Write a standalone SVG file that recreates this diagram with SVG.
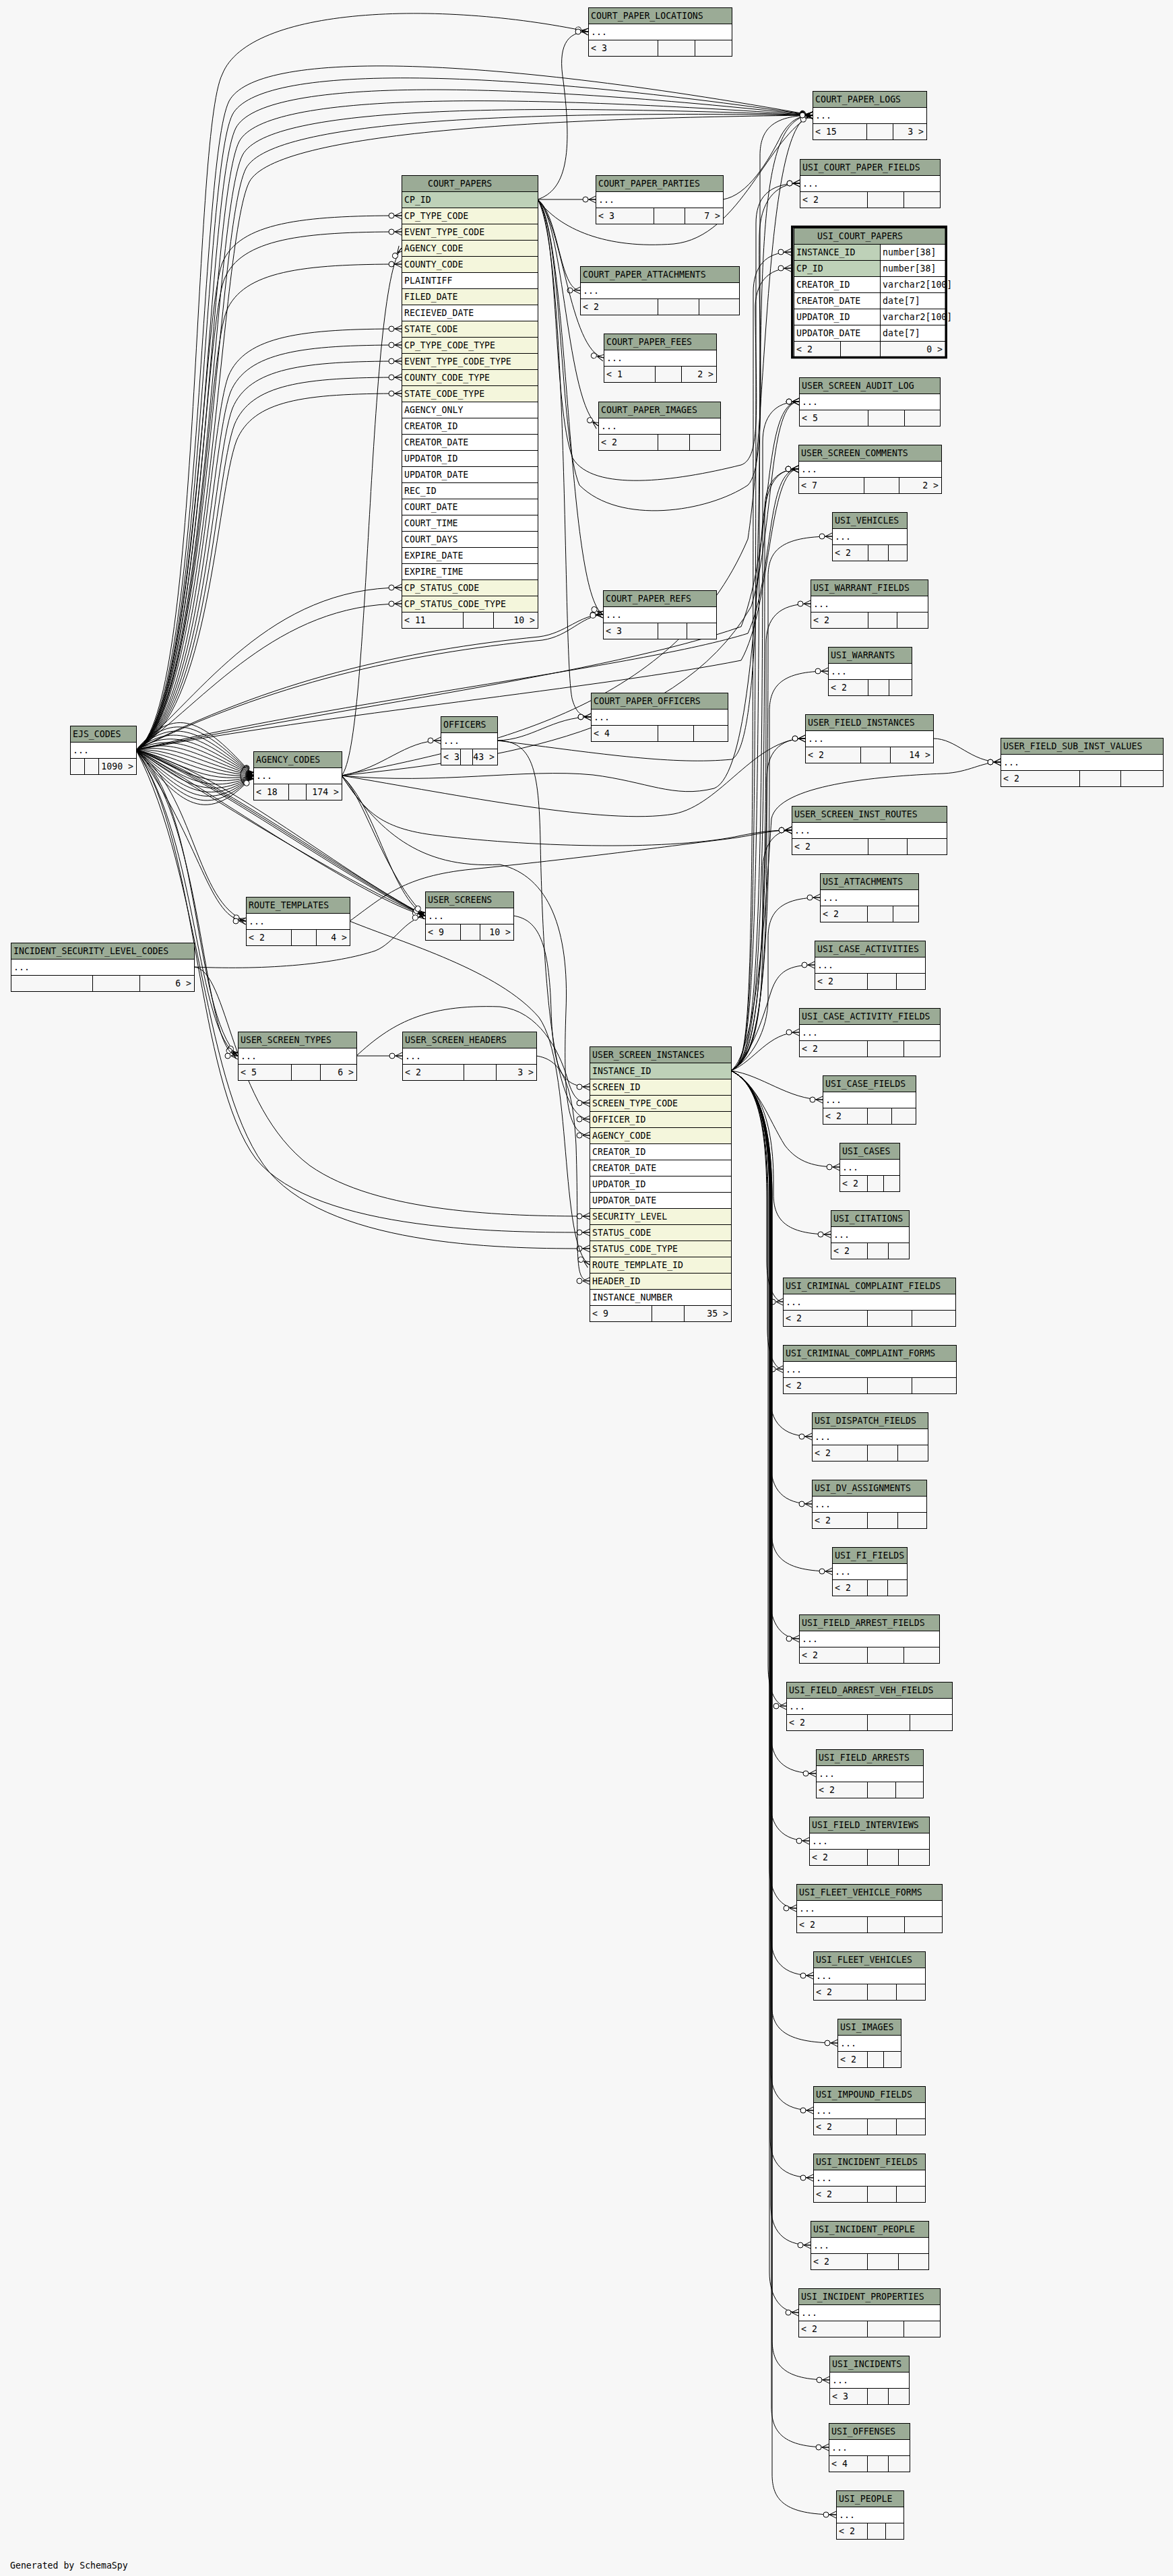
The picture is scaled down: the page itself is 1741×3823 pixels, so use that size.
<svg xmlns="http://www.w3.org/2000/svg" width="1741" height="3823" viewBox="0 0 1741 3823">
<style>
.h,.pk,.fk,.w,.ft{stroke:#000;stroke-width:1;shape-rendering:crispEdges}
.h{fill:#9bab96}.pk{fill:#bed1b8}.fk{fill:#f4f6dc}.w{fill:#fff}.ft{fill:#f7f7f7}
.dv{stroke:#000;stroke-width:1;shape-rendering:crispEdges;fill:none}
text{font-family:"DejaVu Sans Mono","Liberation Mono",monospace;font-size:13.2px;fill:#000}
.r{text-anchor:end}
#connectors path{fill:none;stroke:#000;stroke-width:1;marker-end:url(#cf)}
</style>
<defs>
<marker id="cf" viewBox="-20 -7 22 14" markerWidth="22" markerHeight="14" refX="0" refY="0" orient="auto" markerUnits="userSpaceOnUse" overflow="visible">
<path d="M-10,0 L0,-5 M-10,0 L0,5 M-10,0 L0,0" fill="none" stroke="#000" stroke-width="1"/>
<circle cx="-15" cy="0" r="4" fill="#fff" stroke="#000" stroke-width="1"/>
</marker>
</defs>
<rect x="0" y="0" width="1741" height="3823" fill="#f7f7f7"/>

<g id="connectors">
<!-- EJS_CODES -> COURT_PAPERS -->
<path d="M202,1113 C290,1060 300,470 330,390 C355,330 450,320 596,320"/>
<path d="M202,1113 C293,1060 303,494 333,414 C358,354 450,344 596,344"/>
<path d="M202,1113 C296,1060 306,542 336,462 C361,402 450,392 596,392"/>
<path d="M202,1113 C299,1060 309,638 339,558 C364,498 450,488 596,488"/>
<path d="M202,1113 C302,1060 312,662 342,582 C367,522 450,512 596,512"/>
<path d="M202,1113 C305,1060 315,686 345,606 C370,546 450,536 596,536"/>
<path d="M202,1113 C308,1060 318,710 348,630 C373,570 450,560 596,560"/>
<path d="M202,1113 C311,1060 321,734 351,654 C376,594 450,584 596,584"/>
<path d="M202,1113 C300,1030 400,872 596,872"/>
<path d="M202,1113 C305,1040 410,896 596,896"/>
<!-- EJS_CODES -> COURT_PAPER_LOGS -->
<path d="M202,1113 C300,1060 295,240 340,150 C380,75 700,80 1206,171"/>
<path d="M202,1113 C302,1060 300,260 345,170 C385,95 720,100 1206,171"/>
<path d="M202,1113 C304,1060 305,280 350,190 C390,115 740,120 1206,171"/>
<path d="M202,1113 C306,1060 310,300 355,210 C395,135 760,140 1206,171"/>
<path d="M202,1113 C308,1060 315,320 360,230 C400,155 780,155 1206,171"/>
<path d="M202,1113 C310,1060 320,340 365,250 C405,175 800,165 1206,171"/>
<path d="M202,1113 C312,1060 325,360 370,270 C410,195 820,175 1206,171"/>
<!-- EJS_CODES -> COURT_PAPER_LOCATIONS -->
<path d="M202,1113 C298,1060 285,200 330,110 C370,10 650,0 873,47"/>
<!-- EJS_CODES -> AGENCY_CODES -->
<path d="M202,1113 C260,1045 300,1066 376,1151"/>
<path d="M202,1113 C260,1053 300,1076 376,1151"/>
<path d="M202,1113 C260,1061 300,1086 376,1151"/>
<path d="M202,1113 C260,1069 300,1096 376,1151"/>
<path d="M202,1113 C260,1077 300,1106 376,1151"/>
<path d="M202,1113 C260,1085 300,1116 376,1151"/>
<path d="M202,1113 C260,1093 300,1126 376,1151"/>
<path d="M202,1113 C260,1101 300,1136 376,1151"/>
<path d="M202,1113 C260,1109 300,1146 376,1151"/>
<path d="M202,1113 C260,1117 300,1156 376,1151"/>
<path d="M202,1113 C260,1125 300,1166 376,1151"/>
<path d="M202,1113 C260,1133 300,1176 376,1151"/>
<path d="M202,1113 C260,1141 300,1186 376,1151"/>
<path d="M202,1113 C260,1149 300,1196 376,1151"/>
<path d="M202,1113 C260,1157 300,1206 376,1151"/>
<path d="M202,1113 C260,1165 300,1216 376,1151"/>
<path d="M202,1113 C260,1173 300,1226 376,1151"/>
<path d="M202,1113 C260,1181 300,1236 376,1151"/>
<!-- EJS_CODES -> USER_SCREENS -->
<path d="M202,1113 C300,1140 500,1290 631,1359"/>
<path d="M202,1113 C310,1150 510,1300 631,1359"/>
<path d="M202,1113 C320,1160 520,1310 631,1359"/>
<path d="M202,1113 C290,1170 530,1320 631,1359"/>
<path d="M202,1113 C330,1145 490,1285 631,1359"/>
<path d="M202,1113 C315,1175 540,1335 631,1359"/>
<!-- EJS_CODES -> ROUTE_TEMPLATES -->
<path d="M202,1113 C290,1180 290,1340 365,1367"/>
<path d="M202,1113 C300,1250 310,1367 365,1367"/>
<!-- EJS_CODES -> USER_SCREEN_TYPES -->
<path d="M202,1113 C300,1200 285,1500 353,1567"/>
<path d="M202,1113 C295,1250 290,1530 353,1567"/>
<path d="M202,1113 C305,1220 300,1567 353,1567"/>
<!-- EJS_CODES -> USER_SCREEN_INSTANCES status -->
<path d="M202,1113 C295,1250 290,1600 380,1720 C470,1830 760,1829 875,1829"/>
<path d="M202,1113 C300,1300 300,1620 400,1740 C500,1853 760,1853 875,1853"/>
<!-- EJS_CODES -> COURT_PAPER_REFS -->
<path d="M202,1113 C400,1010 600,965 800,945 C840,940 860,912 895,912"/>
<path d="M202,1113 C400,1015 600,970 805,950 C845,944 862,915 895,912"/>
<!-- EJS_CODES -> audit / comments -->
<path d="M202,1113 C500,1050 900,1000 1100,930 C1150,800 1130,596 1186,596"/>
<path d="M202,1113 C500,1040 950,990 1110,940 C1150,850 1135,696 1185,696"/>
<path d="M202,1113 C480,1060 900,1020 1100,980 C1145,900 1140,696 1185,696"/>
<!-- AGENCY_CODES -->
<path d="M507,1151 C550,1100 545,430 596,368"/>
<path d="M507,1151 C570,1140 600,1099 654,1099"/>
<path d="M507,1151 C560,1200 580,1330 631,1359"/>
<path d="M507,1151 C540,1180 570,1300 631,1359"/>
<path d="M507,1151 C560,1230 620,1290 742,1283 C815,1300 845,1380 840,1500 C836,1620 840,1685 875,1685"/>
<path d="M507,1151 C700,1110 1000,1060 1110,800 C1140,600 1135,171 1206,171"/>
<path d="M507,1151 C700,1130 1000,1100 1115,900 C1150,780 1140,596 1186,596"/>
<path d="M507,1151 C650,1165 780,1140 880,1150 C960,1160 1000,1185 1060,1170 C1110,1150 1120,900 1130,800 C1135,720 1150,696 1185,696"/>
<path d="M507,1151 C680,1180 900,1225 1000,1208 C1070,1195 1120,1096 1195,1096"/>
<path d="M507,1151 C540,1200 560,1230 650,1240 C800,1258 1000,1262 1100,1240 C1130,1234 1150,1232 1175,1232"/>
<!-- OFFICERS -->
<path d="M738,1099 C790,1098 820,1064 877,1064"/>
<path d="M738,1099 C790,1100 800,1140 802,1250 C806,1450 820,1661 875,1661"/>
<path d="M738,1099 C900,1120 1000,1135 1086,1127 C1120,1110 1125,900 1128,600 C1130,300 1140,171 1206,171"/>
<!-- COURT_PAPERS CP_ID -->
<path d="M798,296 L884,296"/>
<path d="M798,296 C830,320 830,431 861,431"/>
<path d="M798,296 C835,330 845,520 896,531"/>
<path d="M798,296 C838,330 840,600 888,632"/>
<path d="M798,296 C845,350 840,880 895,912"/>
<path d="M798,296 C845,380 835,1000 850,1040 C855,1056 862,1064 877,1064"/>
<path d="M798,296 C840,282 850,230 836,120 C828,70 840,47 873,47"/>
<path d="M798,296 C830,340 900,370 1000,362 C1100,352 1140,200 1206,171"/>
<path d="M798,296 C830,340 820,600 850,680 C880,730 1000,715 1100,690 C1130,680 1122,600 1121,460 C1120,420 1140,398 1174,398"/>
<path d="M798,296 C835,340 830,650 860,720 C920,780 1050,760 1110,720 C1140,690 1125,500 1127,350 C1128,300 1150,272 1187,272"/>
<!-- COURT_PAPER_PARTIES -> LOGS -->
<path d="M1073,296 C1110,290 1140,240 1160,200 C1172,180 1185,171 1206,171"/>
<!-- left side to USER_SCREEN_INSTANCES -->
<path d="M762,1359 C800,1365 815,1400 818,1500 C821,1590 835,1613 875,1613"/>
<path d="M529,1567 C580,1520 630,1490 742,1494 C800,1500 830,1560 842,1600 C850,1628 858,1637 875,1637"/>
<path d="M529,1567 L597,1567"/>
<path d="M288,1435 C400,1440 500,1430 557,1411 C585,1400 600,1365 631,1359"/>
<path d="M288,1435 C340,1440 340,1640 460,1730 C560,1800 750,1805 875,1805"/>
<path d="M796,1567 C830,1572 850,1600 855,1700 C860,1860 850,1901 875,1901"/>
<path d="M519,1367 C600,1400 740,1440 800,1510 C850,1580 830,1850 875,1877"/>
<path d="M519,1367 C570,1330 600,1300 700,1290 C850,1275 1000,1255 1080,1245 C1120,1240 1140,1232 1175,1232"/>
<!-- USER_SCREEN_INSTANCES INSTANCE_ID upward -->
<path d="M1085,1589 C1115,1572 1128,1530 1128,321 L1128,231 C1128,193 1146,171 1206,171"/>
<path d="M1085,1589 C1115,1572 1122,1530 1122,422 L1122,332 C1122,294 1140,272 1187,272"/>
<path d="M1085,1589 C1115,1572 1118,1530 1118,524 L1118,434 C1118,396 1136,374 1174,374"/>
<path d="M1085,1589 C1115,1572 1132,1530 1132,746 L1132,656 C1132,618 1150,596 1186,596"/>
<path d="M1085,1589 C1115,1572 1135,1530 1135,846 L1135,756 C1135,718 1153,696 1185,696"/>
<path d="M1085,1589 C1115,1572 1140,1530 1140,946 L1140,856 C1140,818 1158,796 1235,796"/>
<path d="M1085,1589 C1115,1572 1137,1530 1137,1046 L1137,956 C1137,918 1155,896 1203,896"/>
<path d="M1085,1589 C1115,1572 1142,1530 1142,1146 L1142,1056 C1142,1018 1160,996 1229,996"/>
<path d="M1085,1589 C1115,1572 1138,1530 1138,1246 L1138,1156 C1138,1118 1156,1096 1195,1096"/>
<path d="M1085,1589 C1115,1572 1132,1530 1132,1382 L1132,1292 C1132,1254 1150,1232 1175,1232"/>
<path d="M1085,1589 C1115,1572 1140,1530 1140,1482 L1140,1392 C1140,1354 1158,1332 1217,1332"/>
<path d="M1085,1589 C1118,1565 1135,1500 1145,1470 C1155,1442 1170,1432 1209,1432"/>
<path d="M1085,1589 C1120,1575 1140,1532 1186,1532"/>
<path d="M1085,1589 C1125,1560 1138,1320 1145,1215 C1155,1165 1300,1152 1400,1148 C1440,1146 1455,1131 1485,1131"/>
<path d="M1385,1096 C1420,1096 1440,1131 1485,1131"/>
<!-- USER_SCREEN_INSTANCES INSTANCE_ID downward -->
<path d="M1085,1589 C1130,1595 1170,1632 1221,1632"/>
<path d="M1085,1589 C1125,1610 1140,1660 1165,1700 C1185,1726 1210,1732 1246,1732"/>
<path d="M1085,1589 C1118,1605 1148,1650 1148,1752 L1148,1772 C1148,1810 1166,1832 1233,1832"/>
<path d="M1085,1589 C1118,1605 1138,1650 1138,1780 L1138,1872 C1138,1910 1150,1932 1162,1932"/>
<path d="M1085,1589 C1118,1605 1139,1650 1139,1780 L1139,1972 C1139,2010 1150,2032 1162,2032"/>
<path d="M1085,1589 C1118,1605 1143,1650 1143,1780 L1143,2072 C1143,2110 1161,2132 1205,2132"/>
<path d="M1085,1589 C1118,1605 1144,1650 1144,1780 L1144,2172 C1144,2210 1162,2232 1205,2232"/>
<path d="M1085,1589 C1118,1605 1145,1650 1145,1780 L1145,2272 C1145,2310 1163,2332 1235,2332"/>
<path d="M1085,1589 C1118,1605 1143,1650 1143,1780 L1143,2372 C1143,2410 1161,2432 1186,2432"/>
<path d="M1085,1589 C1118,1605 1140,1650 1140,1780 L1140,2472 C1140,2510 1152,2532 1167,2532"/>
<path d="M1085,1589 C1118,1605 1144,1650 1144,1780 L1144,2572 C1144,2610 1162,2632 1211,2632"/>
<path d="M1085,1589 C1118,1605 1143,1650 1143,1780 L1143,2672 C1143,2710 1161,2732 1201,2732"/>
<path d="M1085,1589 C1118,1605 1142,1650 1142,1780 L1142,2772 C1142,2810 1160,2832 1182,2832"/>
<path d="M1085,1589 C1118,1605 1144,1650 1144,1780 L1144,2872 C1144,2910 1162,2932 1207,2932"/>
<path d="M1085,1589 C1118,1605 1145,1650 1145,1780 L1145,2972 C1145,3010 1163,3032 1243,3032"/>
<path d="M1085,1589 C1118,1605 1144,1650 1144,1780 L1144,3072 C1144,3110 1162,3132 1207,3132"/>
<path d="M1085,1589 C1118,1605 1143,1650 1143,1780 L1143,3172 C1143,3210 1161,3232 1207,3232"/>
<path d="M1085,1589 C1118,1605 1144,1650 1144,1780 L1144,3272 C1144,3310 1162,3332 1203,3332"/>
<path d="M1085,1589 C1118,1605 1142,1650 1142,1780 L1142,3372 C1142,3410 1160,3432 1185,3432"/>
<path d="M1085,1589 C1118,1605 1146,1650 1146,1780 L1146,3472 C1146,3510 1164,3532 1231,3532"/>
<path d="M1085,1589 C1118,1605 1145,1650 1145,1780 L1145,3572 C1145,3610 1163,3632 1230,3632"/>
<path d="M1085,1589 C1118,1605 1146,1650 1146,1780 L1146,3672 C1146,3710 1164,3732 1241,3732"/>
</g>

<g id="COURT_PAPERS">
<rect class="h" x="596" y="260" width="202" height="24"/><text x="635" y="277">COURT_PAPERS</text>
<rect class="pk" x="596" y="284" width="202" height="24"/><text x="600" y="301">CP_ID</text>
<rect class="fk" x="596" y="308" width="202" height="24"/><text x="600" y="325">CP_TYPE_CODE</text>
<rect class="fk" x="596" y="332" width="202" height="24"/><text x="600" y="349">EVENT_TYPE_CODE</text>
<rect class="fk" x="596" y="356" width="202" height="24"/><text x="600" y="373">AGENCY_CODE</text>
<rect class="fk" x="596" y="380" width="202" height="24"/><text x="600" y="397">COUNTY_CODE</text>
<rect class="w" x="596" y="404" width="202" height="24"/><text x="600" y="421">PLAINTIFF</text>
<rect class="fk" x="596" y="428" width="202" height="24"/><text x="600" y="445">FILED_DATE</text>
<rect class="w" x="596" y="452" width="202" height="24"/><text x="600" y="469">RECIEVED_DATE</text>
<rect class="fk" x="596" y="476" width="202" height="24"/><text x="600" y="493">STATE_CODE</text>
<rect class="fk" x="596" y="500" width="202" height="24"/><text x="600" y="517">CP_TYPE_CODE_TYPE</text>
<rect class="fk" x="596" y="524" width="202" height="24"/><text x="600" y="541">EVENT_TYPE_CODE_TYPE</text>
<rect class="fk" x="596" y="548" width="202" height="24"/><text x="600" y="565">COUNTY_CODE_TYPE</text>
<rect class="fk" x="596" y="572" width="202" height="24"/><text x="600" y="589">STATE_CODE_TYPE</text>
<rect class="w" x="596" y="596" width="202" height="24"/><text x="600" y="613">AGENCY_ONLY</text>
<rect class="w" x="596" y="620" width="202" height="24"/><text x="600" y="637">CREATOR_ID</text>
<rect class="w" x="596" y="644" width="202" height="24"/><text x="600" y="661">CREATOR_DATE</text>
<rect class="w" x="596" y="668" width="202" height="24"/><text x="600" y="685">UPDATOR_ID</text>
<rect class="w" x="596" y="692" width="202" height="24"/><text x="600" y="709">UPDATOR_DATE</text>
<rect class="w" x="596" y="716" width="202" height="24"/><text x="600" y="733">REC_ID</text>
<rect class="w" x="596" y="740" width="202" height="24"/><text x="600" y="757">COURT_DATE</text>
<rect class="w" x="596" y="764" width="202" height="24"/><text x="600" y="781">COURT_TIME</text>
<rect class="w" x="596" y="788" width="202" height="24"/><text x="600" y="805">COURT_DAYS</text>
<rect class="w" x="596" y="812" width="202" height="24"/><text x="600" y="829">EXPIRE_DATE</text>
<rect class="w" x="596" y="836" width="202" height="24"/><text x="600" y="853">EXPIRE_TIME</text>
<rect class="fk" x="596" y="860" width="202" height="24"/><text x="600" y="877">CP_STATUS_CODE</text>
<rect class="fk" x="596" y="884" width="202" height="24"/><text x="600" y="901">CP_STATUS_CODE_TYPE</text>
<rect class="ft" x="596" y="908" width="202" height="24"/><path class="dv" d="M687,908v24M732,908v24"/>
<text x="600" y="925">&lt; 11</text><text class="r" x="794" y="925">10 &gt;</text>
</g>

<g id="USER_SCREEN_INSTANCES">
<rect class="h" x="875" y="1553" width="210" height="24"/><text x="879" y="1570">USER_SCREEN_INSTANCES</text>
<rect class="pk" x="875" y="1577" width="210" height="24"/><text x="879" y="1594">INSTANCE_ID</text>
<rect class="fk" x="875" y="1601" width="210" height="24"/><text x="879" y="1618">SCREEN_ID</text>
<rect class="fk" x="875" y="1625" width="210" height="24"/><text x="879" y="1642">SCREEN_TYPE_CODE</text>
<rect class="fk" x="875" y="1649" width="210" height="24"/><text x="879" y="1666">OFFICER_ID</text>
<rect class="fk" x="875" y="1673" width="210" height="24"/><text x="879" y="1690">AGENCY_CODE</text>
<rect class="w" x="875" y="1697" width="210" height="24"/><text x="879" y="1714">CREATOR_ID</text>
<rect class="w" x="875" y="1721" width="210" height="24"/><text x="879" y="1738">CREATOR_DATE</text>
<rect class="w" x="875" y="1745" width="210" height="24"/><text x="879" y="1762">UPDATOR_ID</text>
<rect class="w" x="875" y="1769" width="210" height="24"/><text x="879" y="1786">UPDATOR_DATE</text>
<rect class="fk" x="875" y="1793" width="210" height="24"/><text x="879" y="1810">SECURITY_LEVEL</text>
<rect class="fk" x="875" y="1817" width="210" height="24"/><text x="879" y="1834">STATUS_CODE</text>
<rect class="fk" x="875" y="1841" width="210" height="24"/><text x="879" y="1858">STATUS_CODE_TYPE</text>
<rect class="fk" x="875" y="1865" width="210" height="24"/><text x="879" y="1882">ROUTE_TEMPLATE_ID</text>
<rect class="fk" x="875" y="1889" width="210" height="24"/><text x="879" y="1906">HEADER_ID</text>
<rect class="w" x="875" y="1913" width="210" height="24"/><text x="879" y="1930">INSTANCE_NUMBER</text>
<rect class="ft" x="875" y="1937" width="210" height="24"/><path class="dv" d="M967,1937v24M1015,1937v24"/>
<text x="879" y="1954">&lt; 9</text><text class="r" x="1081" y="1954">35 &gt;</text>
</g>

<g id="USI_COURT_PAPERS">
<rect class="h" x="1178" y="338" width="225" height="24"/><text x="1213" y="355">USI_COURT_PAPERS</text>
<rect class="pk" x="1178" y="362" width="128" height="24"/><rect class="w" x="1306" y="362" width="97" height="24"/>
<text x="1182" y="379">INSTANCE_ID</text><text x="1310" y="379">number[38]</text>
<rect class="pk" x="1178" y="386" width="128" height="24"/><rect class="w" x="1306" y="386" width="97" height="24"/>
<text x="1182" y="403">CP_ID</text><text x="1310" y="403">number[38]</text>
<rect class="w" x="1178" y="410" width="128" height="24"/><rect class="w" x="1306" y="410" width="97" height="24"/>
<text x="1182" y="427">CREATOR_ID</text><text x="1310" y="427">varchar2[100]</text>
<rect class="w" x="1178" y="434" width="128" height="24"/><rect class="w" x="1306" y="434" width="97" height="24"/>
<text x="1182" y="451">CREATOR_DATE</text><text x="1310" y="451">date[7]</text>
<rect class="w" x="1178" y="458" width="128" height="24"/><rect class="w" x="1306" y="458" width="97" height="24"/>
<text x="1182" y="475">UPDATOR_ID</text><text x="1310" y="475">varchar2[100]</text>
<rect class="w" x="1178" y="482" width="128" height="24"/><rect class="w" x="1306" y="482" width="97" height="24"/>
<text x="1182" y="499">UPDATOR_DATE</text><text x="1310" y="499">date[7]</text>
<rect class="ft" x="1178" y="506" width="225" height="24"/><path class="dv" d="M1247,506v24M1306,506v24"/>
<text x="1182" y="523">&lt; 2</text><text class="r" x="1399" y="523">0 &gt;</text>
<rect x="1175.8" y="336.5" width="228.4" height="194" fill="none" stroke="#000" stroke-width="3.5"/>
</g>

<g id="COURT_PAPER_LOCATIONS"><rect class="h" x="873" y="11" width="213" height="24"/><rect class="w" x="873" y="35" width="213" height="24"/><rect class="ft" x="873" y="59" width="213" height="24"/><path class="dv" d="M976,59v24M1031,59v24"/><text x="877" y="28">COURT_PAPER_LOCATIONS</text><text x="877" y="52">...</text><text x="877" y="76">&lt; 3</text></g>
<g id="COURT_PAPER_LOGS"><rect class="h" x="1206" y="135" width="169" height="24"/><rect class="w" x="1206" y="159" width="169" height="24"/><rect class="ft" x="1206" y="183" width="169" height="24"/><path class="dv" d="M1286,183v24M1325,183v24"/><text x="1210" y="152">COURT_PAPER_LOGS</text><text x="1210" y="176">...</text><text x="1210" y="200">&lt; 15</text><text class="r" x="1371" y="200">3 &gt;</text></g>
<g id="USI_COURT_PAPER_FIELDS"><rect class="h" x="1187" y="236" width="208" height="24"/><rect class="w" x="1187" y="260" width="208" height="24"/><rect class="ft" x="1187" y="284" width="208" height="24"/><path class="dv" d="M1287,284v24M1341,284v24"/><text x="1191" y="253">USI_COURT_PAPER_FIELDS</text><text x="1191" y="277">...</text><text x="1191" y="301">&lt; 2</text></g>
<g id="COURT_PAPER_PARTIES"><rect class="h" x="884" y="260" width="189" height="24"/><rect class="w" x="884" y="284" width="189" height="24"/><rect class="ft" x="884" y="308" width="189" height="24"/><path class="dv" d="M970,308v24M1016,308v24"/><text x="888" y="277">COURT_PAPER_PARTIES</text><text x="888" y="301">...</text><text x="888" y="325">&lt; 3</text><text class="r" x="1069" y="325">7 &gt;</text></g>
<g id="COURT_PAPER_ATTACHMENTS"><rect class="h" x="861" y="395" width="236" height="24"/><rect class="w" x="861" y="419" width="236" height="24"/><rect class="ft" x="861" y="443" width="236" height="24"/><path class="dv" d="M976,443v24M1037,443v24"/><text x="865" y="412">COURT_PAPER_ATTACHMENTS</text><text x="865" y="436">...</text><text x="865" y="460">&lt; 2</text></g>
<g id="COURT_PAPER_FEES"><rect class="h" x="896" y="495" width="167" height="24"/><rect class="w" x="896" y="519" width="167" height="24"/><rect class="ft" x="896" y="543" width="167" height="24"/><path class="dv" d="M972,543v24M1011,543v24"/><text x="900" y="512">COURT_PAPER_FEES</text><text x="900" y="536">...</text><text x="900" y="560">&lt; 1</text><text class="r" x="1059" y="560">2 &gt;</text></g>
<g id="COURT_PAPER_IMAGES"><rect class="h" x="888" y="596" width="181" height="24"/><rect class="w" x="888" y="620" width="181" height="24"/><rect class="ft" x="888" y="644" width="181" height="24"/><path class="dv" d="M976,644v24M1023,644v24"/><text x="892" y="613">COURT_PAPER_IMAGES</text><text x="892" y="637">...</text><text x="892" y="661">&lt; 2</text></g>
<g id="COURT_PAPER_REFS"><rect class="h" x="895" y="876" width="168" height="24"/><rect class="w" x="895" y="900" width="168" height="24"/><rect class="ft" x="895" y="924" width="168" height="24"/><path class="dv" d="M976,924v24M1019,924v24"/><text x="899" y="893">COURT_PAPER_REFS</text><text x="899" y="917">...</text><text x="899" y="941">&lt; 3</text></g>
<g id="COURT_PAPER_OFFICERS"><rect class="h" x="877" y="1028" width="203" height="24"/><rect class="w" x="877" y="1052" width="203" height="24"/><rect class="ft" x="877" y="1076" width="203" height="24"/><path class="dv" d="M976,1076v24M1029,1076v24"/><text x="881" y="1045">COURT_PAPER_OFFICERS</text><text x="881" y="1069">...</text><text x="881" y="1093">&lt; 4</text></g>
<g id="EJS_CODES"><rect class="h" x="104" y="1077" width="98" height="24"/><rect class="w" x="104" y="1101" width="98" height="24"/><rect class="ft" x="104" y="1125" width="98" height="24"/><path class="dv" d="M125,1125v24M146,1125v24"/><text x="108" y="1094">EJS_CODES</text><text x="108" y="1118">...</text><text class="r" x="198" y="1142">1090 &gt;</text></g>
<g id="AGENCY_CODES"><rect class="h" x="376" y="1115" width="131" height="24"/><rect class="w" x="376" y="1139" width="131" height="24"/><rect class="ft" x="376" y="1163" width="131" height="24"/><path class="dv" d="M428,1163v24M454,1163v24"/><text x="380" y="1132">AGENCY_CODES</text><text x="380" y="1156">...</text><text x="380" y="1180">&lt; 18</text><text class="r" x="503" y="1180">174 &gt;</text></g>
<g id="OFFICERS"><rect class="h" x="654" y="1063" width="84" height="24"/><rect class="w" x="654" y="1087" width="84" height="24"/><rect class="ft" x="654" y="1111" width="84" height="24"/><path class="dv" d="M683,1111v24M701,1111v24"/><text x="658" y="1080">OFFICERS</text><text x="658" y="1104">...</text><text x="658" y="1128">&lt; 3</text><text class="r" x="734" y="1128">43 &gt;</text></g>
<g id="ROUTE_TEMPLATES"><rect class="h" x="365" y="1331" width="154" height="24"/><rect class="w" x="365" y="1355" width="154" height="24"/><rect class="ft" x="365" y="1379" width="154" height="24"/><path class="dv" d="M432,1379v24M469,1379v24"/><text x="369" y="1348">ROUTE_TEMPLATES</text><text x="369" y="1372">...</text><text x="369" y="1396">&lt; 2</text><text class="r" x="515" y="1396">4 &gt;</text></g>
<g id="USER_SCREENS"><rect class="h" x="631" y="1323" width="131" height="24"/><rect class="w" x="631" y="1347" width="131" height="24"/><rect class="ft" x="631" y="1371" width="131" height="24"/><path class="dv" d="M683,1371v24M712,1371v24"/><text x="635" y="1340">USER_SCREENS</text><text x="635" y="1364">...</text><text x="635" y="1388">&lt; 9</text><text class="r" x="758" y="1388">10 &gt;</text></g>
<g id="INCIDENT_SECURITY_LEVEL_CODES"><rect class="h" x="16" y="1399" width="272" height="24"/><rect class="w" x="16" y="1423" width="272" height="24"/><rect class="ft" x="16" y="1447" width="272" height="24"/><path class="dv" d="M137,1447v24M207,1447v24"/><text x="20" y="1416">INCIDENT_SECURITY_LEVEL_CODES</text><text x="20" y="1440">...</text><text class="r" x="284" y="1464">6 &gt;</text></g>
<g id="USER_SCREEN_TYPES"><rect class="h" x="353" y="1531" width="176" height="24"/><rect class="w" x="353" y="1555" width="176" height="24"/><rect class="ft" x="353" y="1579" width="176" height="24"/><path class="dv" d="M432,1579v24M475,1579v24"/><text x="357" y="1548">USER_SCREEN_TYPES</text><text x="357" y="1572">...</text><text x="357" y="1596">&lt; 5</text><text class="r" x="525" y="1596">6 &gt;</text></g>
<g id="USER_SCREEN_HEADERS"><rect class="h" x="597" y="1531" width="199" height="24"/><rect class="w" x="597" y="1555" width="199" height="24"/><rect class="ft" x="597" y="1579" width="199" height="24"/><path class="dv" d="M688,1579v24M736,1579v24"/><text x="601" y="1548">USER_SCREEN_HEADERS</text><text x="601" y="1572">...</text><text x="601" y="1596">&lt; 2</text><text class="r" x="792" y="1596">3 &gt;</text></g>
<g id="USER_SCREEN_AUDIT_LOG"><rect class="h" x="1186" y="560" width="209" height="24"/><rect class="w" x="1186" y="584" width="209" height="24"/><rect class="ft" x="1186" y="608" width="209" height="24"/><path class="dv" d="M1288,608v24M1342,608v24"/><text x="1190" y="577">USER_SCREEN_AUDIT_LOG</text><text x="1190" y="601">...</text><text x="1190" y="625">&lt; 5</text></g>
<g id="USER_SCREEN_COMMENTS"><rect class="h" x="1185" y="660" width="212" height="24"/><rect class="w" x="1185" y="684" width="212" height="24"/><rect class="ft" x="1185" y="708" width="212" height="24"/><path class="dv" d="M1282,708v24M1334,708v24"/><text x="1189" y="677">USER_SCREEN_COMMENTS</text><text x="1189" y="701">...</text><text x="1189" y="725">&lt; 7</text><text class="r" x="1393" y="725">2 &gt;</text></g>
<g id="USI_VEHICLES"><rect class="h" x="1235" y="760" width="111" height="24"/><rect class="w" x="1235" y="784" width="111" height="24"/><rect class="ft" x="1235" y="808" width="111" height="24"/><path class="dv" d="M1288,808v24M1318,808v24"/><text x="1239" y="777">USI_VEHICLES</text><text x="1239" y="801">...</text><text x="1239" y="825">&lt; 2</text></g>
<g id="USI_WARRANT_FIELDS"><rect class="h" x="1203" y="860" width="174" height="24"/><rect class="w" x="1203" y="884" width="174" height="24"/><rect class="ft" x="1203" y="908" width="174" height="24"/><path class="dv" d="M1288,908v24M1331,908v24"/><text x="1207" y="877">USI_WARRANT_FIELDS</text><text x="1207" y="901">...</text><text x="1207" y="925">&lt; 2</text></g>
<g id="USI_WARRANTS"><rect class="h" x="1229" y="960" width="124" height="24"/><rect class="w" x="1229" y="984" width="124" height="24"/><rect class="ft" x="1229" y="1008" width="124" height="24"/><path class="dv" d="M1288,1008v24M1319,1008v24"/><text x="1233" y="977">USI_WARRANTS</text><text x="1233" y="1001">...</text><text x="1233" y="1025">&lt; 2</text></g>
<g id="USER_FIELD_INSTANCES"><rect class="h" x="1195" y="1060" width="190" height="24"/><rect class="w" x="1195" y="1084" width="190" height="24"/><rect class="ft" x="1195" y="1108" width="190" height="24"/><path class="dv" d="M1277,1108v24M1321,1108v24"/><text x="1199" y="1077">USER_FIELD_INSTANCES</text><text x="1199" y="1101">...</text><text x="1199" y="1125">&lt; 2</text><text class="r" x="1381" y="1125">14 &gt;</text></g>
<g id="USER_FIELD_SUB_INST_VALUES"><rect class="h" x="1485" y="1095" width="241" height="24"/><rect class="w" x="1485" y="1119" width="241" height="24"/><rect class="ft" x="1485" y="1143" width="241" height="24"/><path class="dv" d="M1602,1143v24M1663,1143v24"/><text x="1489" y="1112">USER_FIELD_SUB_INST_VALUES</text><text x="1489" y="1136">...</text><text x="1489" y="1160">&lt; 2</text></g>
<g id="USER_SCREEN_INST_ROUTES"><rect class="h" x="1175" y="1196" width="230" height="24"/><rect class="w" x="1175" y="1220" width="230" height="24"/><rect class="ft" x="1175" y="1244" width="230" height="24"/><path class="dv" d="M1288,1244v24M1346,1244v24"/><text x="1179" y="1213">USER_SCREEN_INST_ROUTES</text><text x="1179" y="1237">...</text><text x="1179" y="1261">&lt; 2</text></g>
<g id="USI_ATTACHMENTS"><rect class="h" x="1217" y="1296" width="146" height="24"/><rect class="w" x="1217" y="1320" width="146" height="24"/><rect class="ft" x="1217" y="1344" width="146" height="24"/><path class="dv" d="M1287,1344v24M1325,1344v24"/><text x="1221" y="1313">USI_ATTACHMENTS</text><text x="1221" y="1337">...</text><text x="1221" y="1361">&lt; 2</text></g>
<g id="USI_CASE_ACTIVITIES"><rect class="h" x="1209" y="1396" width="164" height="24"/><rect class="w" x="1209" y="1420" width="164" height="24"/><rect class="ft" x="1209" y="1444" width="164" height="24"/><path class="dv" d="M1287,1444v24M1330,1444v24"/><text x="1213" y="1413">USI_CASE_ACTIVITIES</text><text x="1213" y="1437">...</text><text x="1213" y="1461">&lt; 2</text></g>
<g id="USI_CASE_ACTIVITY_FIELDS"><rect class="h" x="1186" y="1496" width="209" height="24"/><rect class="w" x="1186" y="1520" width="209" height="24"/><rect class="ft" x="1186" y="1544" width="209" height="24"/><path class="dv" d="M1287,1544v24M1341,1544v24"/><text x="1190" y="1513">USI_CASE_ACTIVITY_FIELDS</text><text x="1190" y="1537">...</text><text x="1190" y="1561">&lt; 2</text></g>
<g id="USI_CASE_FIELDS"><rect class="h" x="1221" y="1596" width="138" height="24"/><rect class="w" x="1221" y="1620" width="138" height="24"/><rect class="ft" x="1221" y="1644" width="138" height="24"/><path class="dv" d="M1287,1644v24M1323,1644v24"/><text x="1225" y="1613">USI_CASE_FIELDS</text><text x="1225" y="1637">...</text><text x="1225" y="1661">&lt; 2</text></g>
<g id="USI_CASES"><rect class="h" x="1246" y="1696" width="89" height="24"/><rect class="w" x="1246" y="1720" width="89" height="24"/><rect class="ft" x="1246" y="1744" width="89" height="24"/><path class="dv" d="M1287,1744v24M1311,1744v24"/><text x="1250" y="1713">USI_CASES</text><text x="1250" y="1737">...</text><text x="1250" y="1761">&lt; 2</text></g>
<g id="USI_CITATIONS"><rect class="h" x="1233" y="1796" width="116" height="24"/><rect class="w" x="1233" y="1820" width="116" height="24"/><rect class="ft" x="1233" y="1844" width="116" height="24"/><path class="dv" d="M1287,1844v24M1318,1844v24"/><text x="1237" y="1813">USI_CITATIONS</text><text x="1237" y="1837">...</text><text x="1237" y="1861">&lt; 2</text></g>
<g id="USI_CRIMINAL_COMPLAINT_FIELDS"><rect class="h" x="1162" y="1896" width="256" height="24"/><rect class="w" x="1162" y="1920" width="256" height="24"/><rect class="ft" x="1162" y="1944" width="256" height="24"/><path class="dv" d="M1287,1944v24M1353,1944v24"/><text x="1166" y="1913">USI_CRIMINAL_COMPLAINT_FIELDS</text><text x="1166" y="1937">...</text><text x="1166" y="1961">&lt; 2</text></g>
<g id="USI_CRIMINAL_COMPLAINT_FORMS"><rect class="h" x="1162" y="1996" width="257" height="24"/><rect class="w" x="1162" y="2020" width="257" height="24"/><rect class="ft" x="1162" y="2044" width="257" height="24"/><path class="dv" d="M1287,2044v24M1353,2044v24"/><text x="1166" y="2013">USI_CRIMINAL_COMPLAINT_FORMS</text><text x="1166" y="2037">...</text><text x="1166" y="2061">&lt; 2</text></g>
<g id="USI_DISPATCH_FIELDS"><rect class="h" x="1205" y="2096" width="172" height="24"/><rect class="w" x="1205" y="2120" width="172" height="24"/><rect class="ft" x="1205" y="2144" width="172" height="24"/><path class="dv" d="M1287,2144v24M1332,2144v24"/><text x="1209" y="2113">USI_DISPATCH_FIELDS</text><text x="1209" y="2137">...</text><text x="1209" y="2161">&lt; 2</text></g>
<g id="USI_DV_ASSIGNMENTS"><rect class="h" x="1205" y="2196" width="170" height="24"/><rect class="w" x="1205" y="2220" width="170" height="24"/><rect class="ft" x="1205" y="2244" width="170" height="24"/><path class="dv" d="M1287,2244v24M1332,2244v24"/><text x="1209" y="2213">USI_DV_ASSIGNMENTS</text><text x="1209" y="2237">...</text><text x="1209" y="2261">&lt; 2</text></g>
<g id="USI_FI_FIELDS"><rect class="h" x="1235" y="2296" width="111" height="24"/><rect class="w" x="1235" y="2320" width="111" height="24"/><rect class="ft" x="1235" y="2344" width="111" height="24"/><path class="dv" d="M1287,2344v24M1317,2344v24"/><text x="1239" y="2313">USI_FI_FIELDS</text><text x="1239" y="2337">...</text><text x="1239" y="2361">&lt; 2</text></g>
<g id="USI_FIELD_ARREST_FIELDS"><rect class="h" x="1186" y="2396" width="208" height="24"/><rect class="w" x="1186" y="2420" width="208" height="24"/><rect class="ft" x="1186" y="2444" width="208" height="24"/><path class="dv" d="M1287,2444v24M1341,2444v24"/><text x="1190" y="2413">USI_FIELD_ARREST_FIELDS</text><text x="1190" y="2437">...</text><text x="1190" y="2461">&lt; 2</text></g>
<g id="USI_FIELD_ARREST_VEH_FIELDS"><rect class="h" x="1167" y="2496" width="246" height="24"/><rect class="w" x="1167" y="2520" width="246" height="24"/><rect class="ft" x="1167" y="2544" width="246" height="24"/><path class="dv" d="M1287,2544v24M1350,2544v24"/><text x="1171" y="2513">USI_FIELD_ARREST_VEH_FIELDS</text><text x="1171" y="2537">...</text><text x="1171" y="2561">&lt; 2</text></g>
<g id="USI_FIELD_ARRESTS"><rect class="h" x="1211" y="2596" width="159" height="24"/><rect class="w" x="1211" y="2620" width="159" height="24"/><rect class="ft" x="1211" y="2644" width="159" height="24"/><path class="dv" d="M1287,2644v24M1329,2644v24"/><text x="1215" y="2613">USI_FIELD_ARRESTS</text><text x="1215" y="2637">...</text><text x="1215" y="2661">&lt; 2</text></g>
<g id="USI_FIELD_INTERVIEWS"><rect class="h" x="1201" y="2696" width="178" height="24"/><rect class="w" x="1201" y="2720" width="178" height="24"/><rect class="ft" x="1201" y="2744" width="178" height="24"/><path class="dv" d="M1287,2744v24M1333,2744v24"/><text x="1205" y="2713">USI_FIELD_INTERVIEWS</text><text x="1205" y="2737">...</text><text x="1205" y="2761">&lt; 2</text></g>
<g id="USI_FLEET_VEHICLE_FORMS"><rect class="h" x="1182" y="2796" width="216" height="24"/><rect class="w" x="1182" y="2820" width="216" height="24"/><rect class="ft" x="1182" y="2844" width="216" height="24"/><path class="dv" d="M1287,2844v24M1342,2844v24"/><text x="1186" y="2813">USI_FLEET_VEHICLE_FORMS</text><text x="1186" y="2837">...</text><text x="1186" y="2861">&lt; 2</text></g>
<g id="USI_FLEET_VEHICLES"><rect class="h" x="1207" y="2896" width="166" height="24"/><rect class="w" x="1207" y="2920" width="166" height="24"/><rect class="ft" x="1207" y="2944" width="166" height="24"/><path class="dv" d="M1287,2944v24M1330,2944v24"/><text x="1211" y="2913">USI_FLEET_VEHICLES</text><text x="1211" y="2937">...</text><text x="1211" y="2961">&lt; 2</text></g>
<g id="USI_IMAGES"><rect class="h" x="1243" y="2996" width="94" height="24"/><rect class="w" x="1243" y="3020" width="94" height="24"/><rect class="ft" x="1243" y="3044" width="94" height="24"/><path class="dv" d="M1287,3044v24M1311,3044v24"/><text x="1247" y="3013">USI_IMAGES</text><text x="1247" y="3037">...</text><text x="1247" y="3061">&lt; 2</text></g>
<g id="USI_IMPOUND_FIELDS"><rect class="h" x="1207" y="3096" width="166" height="24"/><rect class="w" x="1207" y="3120" width="166" height="24"/><rect class="ft" x="1207" y="3144" width="166" height="24"/><path class="dv" d="M1287,3144v24M1330,3144v24"/><text x="1211" y="3113">USI_IMPOUND_FIELDS</text><text x="1211" y="3137">...</text><text x="1211" y="3161">&lt; 2</text></g>
<g id="USI_INCIDENT_FIELDS"><rect class="h" x="1207" y="3196" width="166" height="24"/><rect class="w" x="1207" y="3220" width="166" height="24"/><rect class="ft" x="1207" y="3244" width="166" height="24"/><path class="dv" d="M1287,3244v24M1330,3244v24"/><text x="1211" y="3213">USI_INCIDENT_FIELDS</text><text x="1211" y="3237">...</text><text x="1211" y="3261">&lt; 2</text></g>
<g id="USI_INCIDENT_PEOPLE"><rect class="h" x="1203" y="3296" width="175" height="24"/><rect class="w" x="1203" y="3320" width="175" height="24"/><rect class="ft" x="1203" y="3344" width="175" height="24"/><path class="dv" d="M1287,3344v24M1333,3344v24"/><text x="1207" y="3313">USI_INCIDENT_PEOPLE</text><text x="1207" y="3337">...</text><text x="1207" y="3361">&lt; 2</text></g>
<g id="USI_INCIDENT_PROPERTIES"><rect class="h" x="1185" y="3396" width="210" height="24"/><rect class="w" x="1185" y="3420" width="210" height="24"/><rect class="ft" x="1185" y="3444" width="210" height="24"/><path class="dv" d="M1287,3444v24M1341,3444v24"/><text x="1189" y="3413">USI_INCIDENT_PROPERTIES</text><text x="1189" y="3437">...</text><text x="1189" y="3461">&lt; 2</text></g>
<g id="USI_INCIDENTS"><rect class="h" x="1231" y="3496" width="118" height="24"/><rect class="w" x="1231" y="3520" width="118" height="24"/><rect class="ft" x="1231" y="3544" width="118" height="24"/><path class="dv" d="M1287,3544v24M1318,3544v24"/><text x="1235" y="3513">USI_INCIDENTS</text><text x="1235" y="3537">...</text><text x="1235" y="3561">&lt; 3</text></g>
<g id="USI_OFFENSES"><rect class="h" x="1230" y="3596" width="120" height="24"/><rect class="w" x="1230" y="3620" width="120" height="24"/><rect class="ft" x="1230" y="3644" width="120" height="24"/><path class="dv" d="M1287,3644v24M1318,3644v24"/><text x="1234" y="3613">USI_OFFENSES</text><text x="1234" y="3637">...</text><text x="1234" y="3661">&lt; 4</text></g>
<g id="USI_PEOPLE"><rect class="h" x="1241" y="3696" width="100" height="24"/><rect class="w" x="1241" y="3720" width="100" height="24"/><rect class="ft" x="1241" y="3744" width="100" height="24"/><path class="dv" d="M1287,3744v24M1314,3744v24"/><text x="1245" y="3713">USI_PEOPLE</text><text x="1245" y="3737">...</text><text x="1245" y="3761">&lt; 2</text></g>

<text x="15" y="3812">Generated by SchemaSpy</text>
</svg>
